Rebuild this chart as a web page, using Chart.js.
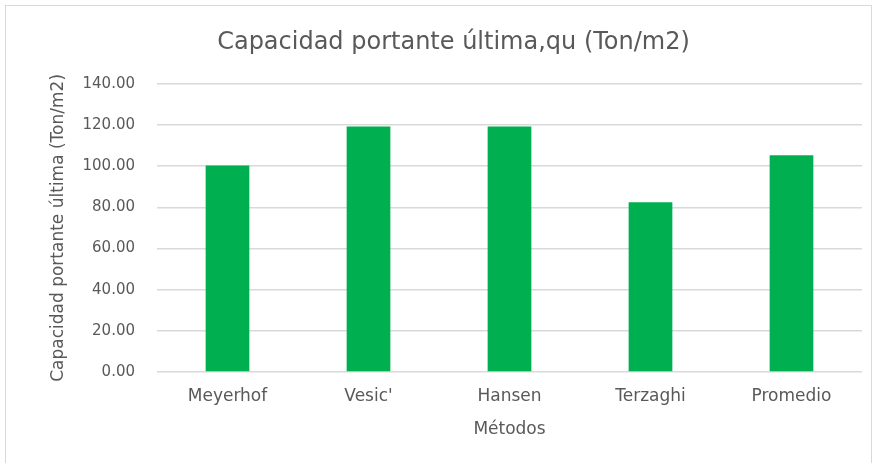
<!DOCTYPE html>
<html>
<head>
<meta charset="utf-8">
<script src="https://cdn.jsdelivr.net/npm/chart.js@4"></script>
<style>
  html, body { margin: 0; padding: 0; background: #fff; }
  #wrap { position: relative; width: 876px; height: 463px; }
</style>
</head>
<body>
<div id="wrap"><canvas id="grafico"></canvas></div>
<script>
var metodos = ["Meyerhof", "Vesic'", "Hansen", "Terzaghi", "Promedio"];
var capacidad = [100.3, 119.3, 119.3, 82.5, 105.35];
var tituloGrafico = "Capacidad portante última,qu (Ton/m2)";
var tituloY = "Capacidad portante última (Ton/m2)";
var tituloX = "Métodos";

var gris = "#595959";

// marco gris claro alrededor del grafico
var marco = {
  id: "marco",
  beforeDraw: function (chart) {
    var ctx = chart.ctx;
    ctx.save();
    ctx.fillStyle = "#fff";
    ctx.fillRect(0, 0, chart.width, chart.height);
    ctx.strokeStyle = "#d9d9d9";
    ctx.lineWidth = 1;
    ctx.strokeRect(5.5, 5.5, chart.width - 10, chart.height);
    ctx.restore();
  }
};

var obj = document.getElementById("grafico");
var grafico = new Chart(obj, {
  type: "bar",
  data: {
    labels: metodos,
    datasets: [
      {
        label: "qu",
        data: capacidad,
        backgroundColor: "#00B050",
        borderColor: "#00B050",
        categoryPercentage: 1,
        barPercentage: 0.31
      }
    ]
  },
  options: {
    responsive: true,
    maintainAspectRatio: false,
    animation: false,
    layout: { padding: { left: 45, right: 14, top: 0, bottom: 19 } },
    plugins: {
      legend: { display: false },
      tooltip: { enabled: false },
      title: {
        display: true,
        text: tituloGrafico,
        color: gris,
        font: { family: "'DejaVu Sans'", size: 24, weight: "normal" },
        padding: { top: 28, bottom: 27 }
      }
    },
    scales: {
      x: {
        grid: { display: false, drawTicks: false },
        border: { display: false },
        ticks: {
          color: gris,
          font: { family: "'DejaVu Sans'", size: 17 },
          padding: 14,
          maxRotation: 0
        },
        title: {
          display: true,
          text: tituloX,
          color: gris,
          font: { family: "'DejaVu Sans'", size: 17 },
          padding: { top: 8, bottom: 4 }
        },
        afterFit: function (s) { s.height = 72; }
      },
      y: {
        min: 0,
        max: 140,
        grid: { color: "#d9d9d9", lineWidth: 1.5, drawTicks: false },
        border: { display: false },
        ticks: {
          stepSize: 20,
          color: gris,
          font: { family: "'DejaVu Sans'", size: 15 },
          padding: 22,
          callback: function (v) { return v.toFixed(2); }
        },
        title: {
          display: true,
          text: tituloY,
          color: gris,
          font: { family: "'DejaVu Sans'", size: 17 },
          padding: { top: 3, bottom: 4 }
        },
        afterFit: function (s) { s.width = 112; }
      }
    }
  },
  plugins: [marco]
});
</script>
</body>
</html>
